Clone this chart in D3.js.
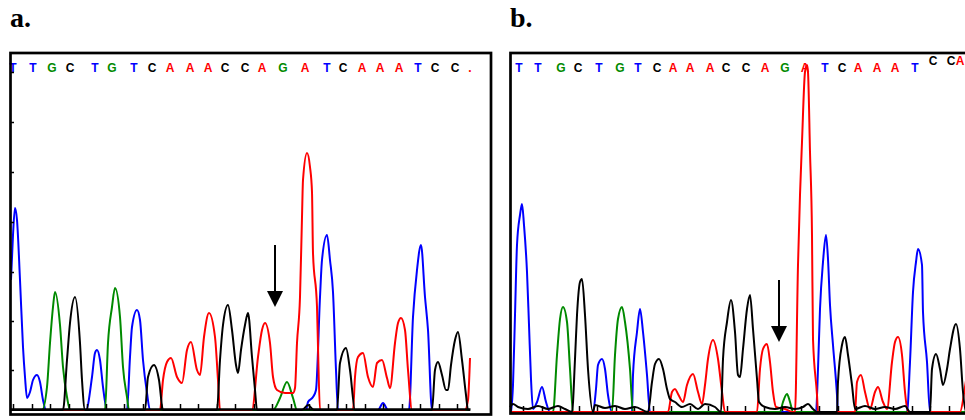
<!DOCTYPE html>
<html>
<head>
<meta charset="utf-8">
<script src="https://cdn.jsdelivr.net/npm/d3@7"></script>
<style>
  body { margin: 0; background: #fff; }
  svg { display: block; }
</style>
</head>
<body>
<svg width="965" height="420"></svg>
<script>
// base calls printed along the top of each trace
const basesA = ["T","T","G","C","T","G","T","C","A","A","A","C","C","A","G","A","T","C","A","A","A","T","C","C","."];
const basePosA = [3,23,42,60,85,102,124,142,160,180,198,215,235,252,273,295,317,333,352,370,389,408,425,445,460];
const basesB = ["T","T","G","C","T","G","T","C","A","A","A","C","C","A","G","A","T","C","A","A","A","T","C","C","A"];
const basePosB = [9,28,51,68,89,110,128,147,163,180,200,216,236,255,275,295,315,332,348,367,385,405,423,441,450];
const raisedB = [22, 23, 24];

// scan ticks along the bottom and intensity ticks on the left of panel a
const scanTicksA = [3,22,40,59,77,96,114,133,151,170,188,207,225,244,262,281,299,318,336,355,373,392,410,429,447];
const scanTicksB = [13,32,50,69,87,106,124,143,161,180,198,217,235,254,272,291,309,328,346,365,383,402,420,439,457];
const yTicksA = [40, 89, 138, 188, 238, 288, 338];

// traces: [scan, intensity]
const aBlue = [[1,130],[3,175],[5,202],[7,190],[10,130],[13,63],[15,33],[17,12],[20,18],[23,30],[27,35],[30,28],[33,10],[36,0],
  [76,0],[82,33],[85,57],[87,60],[90,50],[93,23],[97,0],
  [117,0],[120,53],[122,83],[127,100],[130,90],[133,50],[137,17],[140,0],
  [296,0],[298,8],[303,13],[306,20],[310,113],[312,150],[317,175],[320,150],[323,118],[326,40],[328,0],
  [368,0],[373,7],[378,0],
  [399,0],[403,93],[407,140],[411,165],[415,113],[418,80],[422,0],[460,0]];
const aGreen = [[0,0],[32,0],[37,23],[40,67],[43,103],[45,118],[50,85],[53,43],[57,13],[60,0],
  [95,0],[98,67],[102,103],[105,122],[110,93],[113,43],[117,13],[119,0],
  [263,0],[270,12],[277,28],[283,12],[287,0],[460,0]];
const aRed = [[0,0],[150,0],[153,30],[157,48],[161,52],[167,33],[172,27],[177,60],[181,68],[187,40],[190,35],[194,73],[199,97],[205,73],[208,30],[210,0],
  [242,0],[248,53],[252,80],[255,87],[260,67],[263,33],[267,20],[275,17],[283,17],[285,22],[287,67],[290,113],[292,193],[293,230],[297,257],[300,243],[302,218],[303,157],[307,103],[308,63],[310,0],
  [343,0],[345,33],[348,53],[353,57],[358,33],[363,23],[367,47],[372,50],[377,32],[380,22],[385,67],[388,87],[391,92],[395,80],[398,40],[402,0],
  [455,0],[458,10],[460,52]];
const aBlack = [[0,0],[53,0],[57,50],[60,87],[65,113],[70,67],[72,30],[75,0],
  [135,0],[138,33],[144,45],[149,30],[153,0],
  [207,0],[210,50],[213,85],[218,105],[222,80],[226,45],[228,37],[231,60],[235,85],[238,97],[242,53],[245,20],[247,0],
  [292,0],[298,5],[304,0],
  [327,0],[330,47],[336,62],[340,40],[345,0],
  [422,0],[425,40],[428,48],[432,35],[436,20],[438,20],[441,45],[445,70],[448,78],[452,50],[456,15],[458,0],[460,0]];

const bBlue = [[1,0],[3,27],[5,97],[7,167],[10,197],[12,208],[14,187],[17,140],[19,87],[21,33],[23,3],[27,10],[32,25],[36,10],[40,0],
  [83,0],[86,23],[88,47],[92,53],[95,43],[98,17],[102,0],
  [122,0],[123,37],[127,80],[130,103],[133,80],[137,37],[140,0],
  [306,0],[308,43],[310,103],[313,150],[316,177],[318,153],[320,107],[323,67],[327,17],[328,0],
  [397,0],[400,50],[403,120],[406,150],[408,163],[412,147],[413,100],[417,50],[420,0],[460,0]];
const bGreen = [[0,0],[43,0],[47,57],[50,93],[53,105],[57,90],[60,43],[63,0],
  [102,0],[105,57],[108,93],[112,105],[115,90],[120,43],[123,0],
  [270,0],[273,10],[277,18],[280,10],[283,0],[460,0]];
const bRed = [[0,0],[158,0],[162,20],[165,23],[168,18],[173,10],[177,27],[183,38],[188,20],[192,8],[195,27],[198,53],[203,72],[208,53],[212,20],[215,0],
  [247,0],[250,43],[253,63],[257,68],[260,50],[263,20],[266,5],[275,3],[283,0],
  [285,0],[288,147],[290,217],[292,270],[295,340],[297,347],[298,340],[300,260],[302,177],[303,73],[307,17],[308,0],
  [345,0],[347,30],[351,37],[355,20],[360,3],[365,20],[368,25],[373,10],[377,3],[382,50],[385,70],[388,75],[392,57],[395,20],[398,0],
  [450,0],[455,25],[460,60]];
const bBlack = [[0,5],[3,8],[8,5],[18,3],[28,6],[38,3],[48,6],[55,3],[62,0],[65,53],[67,97],[70,130],[72,133],[75,97],[78,43],[83,0],
  [85,7],[95,4],[105,6],[115,3],[125,5],[138,0],[142,30],[145,48],[149,53],[153,43],[157,23],[160,13],[165,10],[172,5],[180,8],[188,3],[195,8],[205,5],
  [211,0],[213,53],[217,90],[221,112],[225,80],[228,37],[230,35],[233,63],[237,103],[240,117],[243,83],[247,33],[249,10],
  [255,5],[265,3],[275,5],[285,3],[293,5],[298,8],[303,3],[307,0],
  [327,0],[328,30],[332,67],[335,75],[338,57],[342,27],[345,3],[355,6],[365,3],[375,5],[385,3],[395,6],[400,0],
  [420,0],[422,43],[426,58],[430,43],[433,27],[437,43],[440,63],[446,88],[450,63],[453,20],[456,0],[460,0]];

// arrows marking the position: [scan, top intensity, tip intensity]
const arrowA = [265, 165, 103];
const arrowB = [269, 132, 70];

const colors = {A: "#ff0000", C: "#000000", G: "#008a00", T: "#0000ff", ".": "#ff0000"};

const svg = d3.select('svg');

function drawPanel(cfg) {
    const x = d3.scaleLinear().domain([0, 480]).range([cfg.left, cfg.left + 480]);
    const y = d3.scaleLinear().domain([0, 350]).range([cfg.base, cfg.base - 350]);
    const g = svg.append('g');

    // title
    svg.append('text')
        .attr('x', cfg.left)
        .attr('y', 27)
        .attr('font-family', '"Liberation Serif", "Times New Roman", serif')
        .attr('font-weight', 'bold')
        .attr('font-size', 28)
        .text(cfg.title);

    // base letters
    g.selectAll('.base')
        .data(cfg.bases)
        .join('text')
        .attr('x', (d, i) => x(cfg.pos[i]))
        .attr('y', (d, i) => cfg.raised.includes(i) ? 65 : 72)
        .attr('text-anchor', 'middle')
        .attr('font-family', '"Liberation Sans", Arial, sans-serif')
        .attr('font-weight', 'bold')
        .attr('font-size', 12)
        .attr('fill', d => colors[d])
        .text(d => d);

    var line = d3.line()
        .x(d => x(d[0]))
        .y(d => y(d[1]))
        .curve(d3.curveMonotoneX);

    cfg.traces.forEach(function(t) {
        g.append('path')
            .datum(t.data)
            .attr('d', line)
            .attr('fill', 'none')
            .attr('stroke', t.color)
            .attr('stroke-width', 2);
    });

    // scan axis with ticks pointing up
    const xa = x.copy().domain([0, 460]).range([x(0), x(460)]);
    const axisG = g.append('g')
        .attr('transform', `translate(0,${cfg.base - 1})`)
        .call(d3.axisBottom(xa).tickValues(cfg.ticks).tickSize(-5).tickSizeOuter(0).tickFormat(''));
    axisG.selectAll('line').attr('stroke-width', 1.5);
    axisG.select('.domain').attr('stroke-width', cfg.axisLine ? 2.5 : 0);

    if (cfg.yTicks) {
        const yAxisG = g.append('g')
            .attr('transform', `translate(${cfg.left + 1},0)`)
            .call(d3.axisRight(y).tickValues(cfg.yTicks).tickSize(3).tickFormat(''));
        yAxisG.select('.domain').remove();
        yAxisG.selectAll('line').attr('stroke-width', 1.5);
    }

    // arrow
    const ax = x(cfg.arrow[0]);
    const yTop = y(cfg.arrow[1]);
    const yTip = y(cfg.arrow[2]);
    g.append('line')
        .attr('x1', ax).attr('x2', ax)
        .attr('y1', yTop).attr('y2', yTip - 12)
        .attr('stroke', '#000').attr('stroke-width', 2);
    g.append('path')
        .attr('d', `M${ax - 8},${yTip - 16} L${ax + 8},${yTip - 16} L${ax},${yTip} Z`)
        .attr('fill', '#000');

    // frame
    g.append('rect')
        .attr('x', cfg.left + 0.5)
        .attr('y', 53)
        .attr('width', cfg.width)
        .attr('height', cfg.bottom - 53)
        .attr('fill', 'none')
        .attr('stroke', '#000')
        .attr('stroke-width', 2.7);
}

drawPanel({
    title: 'a.', left: 10, base: 410, bottom: 414.5, width: 480.5,
    bases: basesA, pos: basePosA, raised: [],
    ticks: scanTicksA, yTicks: yTicksA, axisLine: true, arrow: arrowA,
    traces: [
        {data: aBlue, color: colors.T},
        {data: aGreen, color: colors.G},
        {data: aRed, color: colors.A},
        {data: aBlack, color: colors.C}
    ]
});

drawPanel({
    title: 'b.', left: 510, base: 412, bottom: 413.5, width: 480,
    bases: basesB, pos: basePosB, raised: raisedB,
    ticks: scanTicksB, yTicks: null, axisLine: false, arrow: arrowB,
    traces: [
        {data: bBlue, color: colors.T},
        {data: bGreen, color: colors.G},
        {data: bRed, color: colors.A},
        {data: bBlack, color: colors.C}
    ]
});
</script>
</body>
</html>
